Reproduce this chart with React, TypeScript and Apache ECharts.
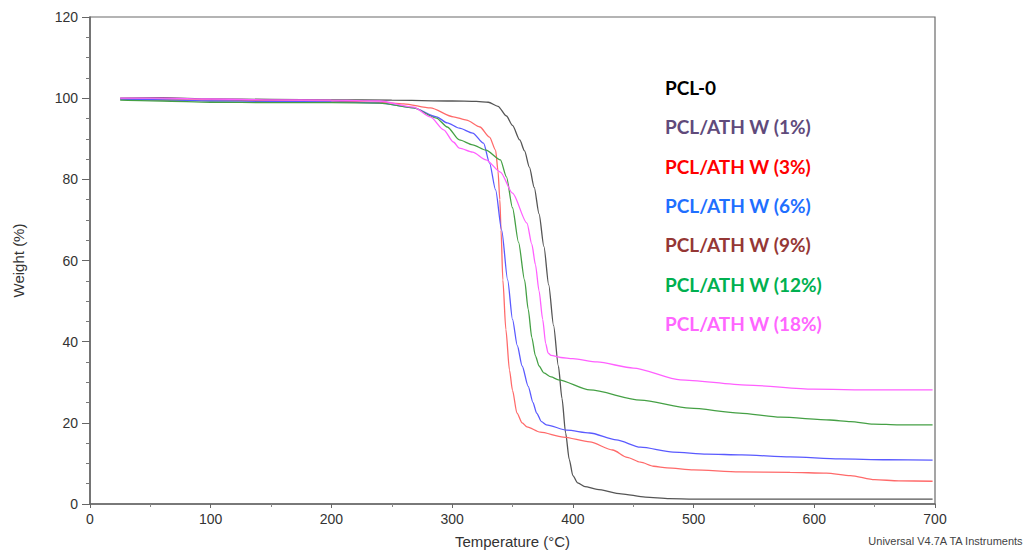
import React, { useEffect, useRef } from "react";
import * as echarts from "echarts";

const xTicks = [0, 100, 200, 300, 400, 500, 600, 700];
const yTicks = [0, 20, 40, 60, 80, 100, 120];

const pcl0: number[][] = [
  [25, 100], [60, 100.1], [100, 99.8], [150, 99.7], [200, 99.6], [250, 99.5], [300, 99.3],
  [320, 99.2], [330, 99.0], [338, 98.0], [345, 95.6], [350, 93.3], [356, 89.7], [360, 87],
  [364, 83], [368, 78], [372, 71.5], [376, 63.5], [380, 54], [384, 44], [388, 34], [391, 26],
  [394, 17.5], [397, 11], [400, 7], [404, 5.2], [410, 4.3], [420, 3.6], [440, 2.5], [460, 1.7],
  [480, 1.3], [500, 1.2], [600, 1.2], [698, 1.2],
];
const ath3: number[][] = [
  [25, 99.8], [60, 99.6], [100, 99.5], [150, 99.4], [200, 99.3], [240, 99.0], [260, 98.6],
  [282, 97.6], [301, 95.4], [312, 94.6], [323, 92.9], [331, 90.4], [336, 87.2], [338, 82],
  [339.5, 75], [340.5, 67.5], [342, 55.2], [344.5, 43], [347.5, 33], [350, 28], [353.7, 22.4],
  [358, 20], [362, 19], [373, 17.7], [392, 16.5], [414, 15.3], [433, 13.3], [445, 11.5],
  [456, 10.3], [467, 9.3], [478, 8.9], [500, 8.4], [538, 7.9], [580, 7.8], [610, 7.6],
  [630, 7], [650, 6], [670, 5.7], [698, 5.6],
];
const ath6: number[][] = [
  [25, 99.8], [60, 99.6], [100, 99.3], [150, 99.2], [200, 99.1], [240, 98.8], [268, 97.6],
  [287, 95.4], [296, 93.9], [306, 92.6], [317, 91.4], [326, 88.9], [331, 84], [336, 77.4],
  [341, 67.5], [346, 55.2], [350, 45.5], [354, 39], [358, 34], [363, 29], [367, 25],
  [370, 22.4], [374, 20.3], [378, 19.5], [395, 18.2], [414, 17.5], [436, 15.8], [456, 14],
  [483, 12.8], [511, 12.3], [540, 12.1], [580, 11.6], [621, 11.1], [660, 10.9], [698, 10.8],
];
const ath12: number[][] = [
  [25, 99.5], [60, 99.3], [100, 99.0], [150, 98.9], [200, 98.9], [240, 98.8], [268, 97.6],
  [287, 95.1], [296, 92.9], [306, 89.7], [317, 88.5], [328, 87.2], [340, 84.8], [345, 80.6],
  [350, 73], [355, 64.5], [360, 55.2], [363, 48], [366, 41], [369, 36.5], [372, 34],
  [376, 32.3], [382, 31.3], [388, 30.6], [414, 28.1], [456, 25.6], [497, 23.6], [538, 22.4],
  [572, 21.4], [613, 20.7], [630, 20.3], [649, 19.7], [670, 19.5], [698, 19.5],
];
const ath18: number[][] = [
  [25, 100], [60, 100], [100, 99.8], [150, 99.6], [200, 99.5], [240, 99.3], [268, 97.8],
  [282, 95.4], [293, 92.2], [301, 89.2], [306, 87.7], [317, 86.7], [328, 84.8], [340, 81.8],
  [350, 76.6], [362, 69.2], [366, 64], [369, 59], [372, 52.5], [375, 45.5], [377.5, 39.5],
  [379.5, 37.2], [382, 36.6], [390, 36.1], [400, 35.8], [420, 35], [450, 33.5], [489, 30.6],
  [544, 29.3], [599, 28.3], [650, 28.1], [698, 28.1],
];

const legendNames = [
  "PCL-0",
  "PCL/ATH W (1%)",
  "PCL/ATH W (3%)",
  "PCL/ATH W (6%)",
  "PCL/ATH W (9%)",
  "PCL/ATH W (12%)",
  "PCL/ATH W (18%)",
];
const legendColors = ["#000000", "#604A7B", "#FF0000", "#1F6FFF", "#953735", "#00B050", "#FF66FF"];

const seriesList = [
  { name: "PCL-0", data: pcl0, color: "#555555" },
  { name: "PCL/ATH W (3%)", data: ath3, color: "#FF6A6A" },
  { name: "PCL/ATH W (6%)", data: ath6, color: "#5A5AFF" },
  { name: "PCL/ATH W (12%)", data: ath12, color: "#45A045" },
  { name: "PCL/ATH W (18%)", data: ath18, color: "#FF60FF" },
];

export default function App() {
  const ref = useRef<HTMLDivElement>(null);
  useEffect(() => {
    if (!ref.current) return;
    const chart = echarts.init(ref.current, undefined, { renderer: "svg" });
    const legendTop = 88;
    const legendStep = 39.3;
    chart.setOption({
      animation: false,
      backgroundColor: "#ffffff",
      grid: {
        left: 90, top: 17, right: 92, bottom: 47,
        containLabel: false,
        outerBoundsMode: "none",
        show: true, borderColor: "#6a6a6a", borderWidth: 1.2, backgroundColor: "transparent",
      },
      xAxis: {
        type: "value", min: xTicks[0], max: xTicks[xTicks.length - 1], interval: 100,
        name: "Temperature (°C)", nameLocation: "middle", nameGap: 30,
        nameTextStyle: { fontFamily: "Liberation Sans", fontSize: 15, color: "#333" },
        axisLine: { show: true, onZero: false, lineStyle: { color: "#666", width: 1.5 } },
        axisTick: { show: true, length: 4, lineStyle: { color: "#666" } },
        minorTick: { show: true, splitNumber: 2, length: 3, lineStyle: { color: "#888" } },
        axisLabel: { fontFamily: "Liberation Sans", fontSize: 14, color: "#333", margin: 8 },
        splitLine: { show: false },
      },
      yAxis: {
        type: "value", min: yTicks[0], max: yTicks[yTicks.length - 1], interval: 20,
        name: "Weight (%)", nameLocation: "middle", nameGap: 64,
        nameTextStyle: { fontFamily: "Liberation Sans", fontSize: 15, color: "#333" },
        axisLine: { show: true, onZero: false, lineStyle: { color: "#666", width: 1.5 } },
        axisTick: { show: true, length: 8, lineStyle: { color: "#666" } },
        minorTick: { show: true, splitNumber: 4, length: 4, lineStyle: { color: "#777" } },
        axisLabel: { fontFamily: "Liberation Sans", fontSize: 14, color: "#333", margin: 12 },
        splitLine: { show: false },
      },
      series: seriesList.map((s) => ({
        name: s.name,
        type: "line",
        data: s.data,
        showSymbol: false,
        smooth: 0.25,
        smoothMonotone: "x",
        lineStyle: { color: s.color, width: 1.3 },
        itemStyle: { color: s.color },
      })),
      graphic: [
        ...legendNames.map((n, i) => ({
          type: "text",
          left: 665,
          top: legendTop + i * legendStep - 10,
          style: {
            text: n,
            fill: legendColors[i],
            font: "bold 19px Lato",
          },
        })),
        {
          type: "text",
          right: 3,
          top: 535,
          style: {
            text: "Universal V4.7A TA Instruments",
            fill: "#444",
            font: "11px 'Liberation Sans'",
          },
        },
      ],
    });
    return () => chart.dispose();
  }, []);
  return (
    <div
      ref={ref}
      style={{ position: "fixed", left: 0, top: 0, width: 1027, height: 551, background: "#fff" }}
    />
  );
}
